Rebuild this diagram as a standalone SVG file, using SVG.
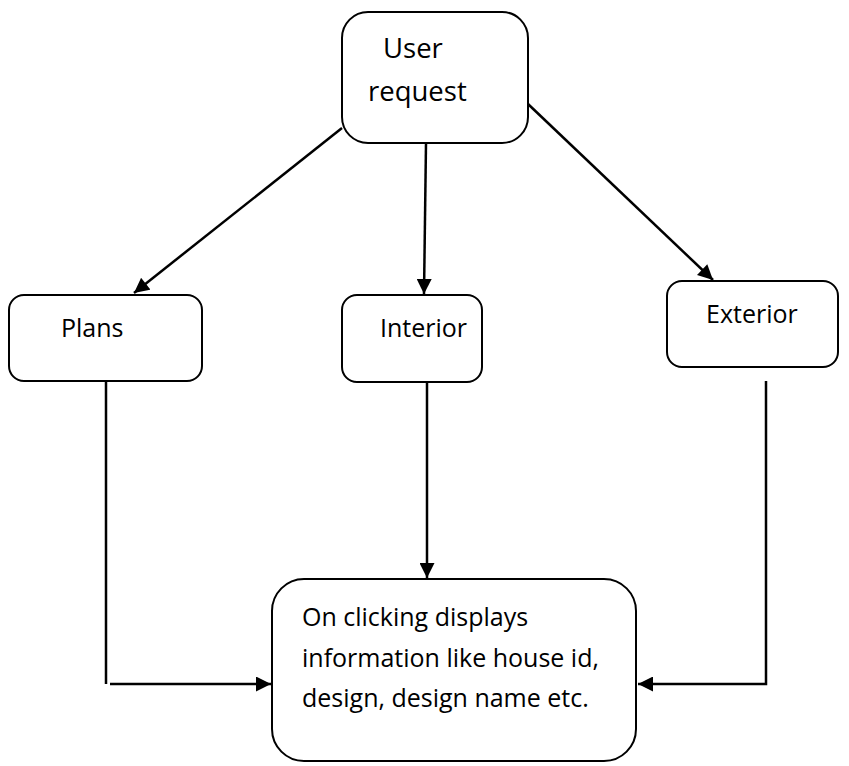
<svg xmlns="http://www.w3.org/2000/svg" width="849" height="766" viewBox="0 0 849 766">
<defs>
<style>
.box{fill:#fff;stroke:#000;stroke-width:2}
.t{font-family:"Open Sans","Liberation Sans",Arial,sans-serif;font-size:25px;fill:#000}
.big{font-size:27.5px}
.c{fill:none;stroke:#000;stroke-width:2.5}
</style>
<marker id="ah" viewBox="0 0 10 10" refX="10" refY="5" markerWidth="16" markerHeight="15" markerUnits="userSpaceOnUse" orient="auto">
<path d="M0,0 L10,5 L0,10 Z" fill="#000"/>
</marker>
</defs>
<rect width="849" height="766" fill="#fff"/>
<g id="connectors">
<line class="c" x1="342" y1="128" x2="134" y2="293" marker-end="url(#ah)"/>
<line class="c" x1="426" y1="143" x2="424" y2="294" marker-end="url(#ah)"/>
<line class="c" x1="528" y1="104" x2="713" y2="280" marker-end="url(#ah)"/>
<line class="c" x1="106" y1="382" x2="106" y2="684"/>
<line class="c" x1="110" y1="684" x2="271" y2="684" marker-end="url(#ah)"/>
<line class="c" x1="427" y1="382" x2="427" y2="578" marker-end="url(#ah)"/>
<polyline class="c" points="766,381 766,684 638,684" marker-end="url(#ah)"/>
</g>
<g id="user-request">
<rect class="box" x="342" y="12" width="186" height="131" rx="26"/>
<text class="t big" x="383" y="58">User</text>
<text class="t big" x="368" y="101">request</text>
</g>
<g id="plans">
<rect class="box" x="9" y="295" width="193" height="86" rx="15"/>
<text class="t" x="61" y="337">Plans</text>
</g>
<g id="interior">
<rect class="box" x="342" y="295" width="140" height="87" rx="15"/>
<text class="t" x="380" y="337">Interior</text>
</g>
<g id="exterior">
<rect class="box" x="667" y="281" width="171" height="86" rx="15"/>
<text class="t" x="706" y="323">Exterior</text>
</g>
<g id="result">
<rect class="box" x="272" y="579" width="364" height="182" rx="32"/>
<text class="t" x="302" y="626">On clicking displays</text>
<text class="t" x="302" y="667">information like house id,</text>
<text class="t" x="302" y="707">design, design name etc.</text>
</g>
</svg>
